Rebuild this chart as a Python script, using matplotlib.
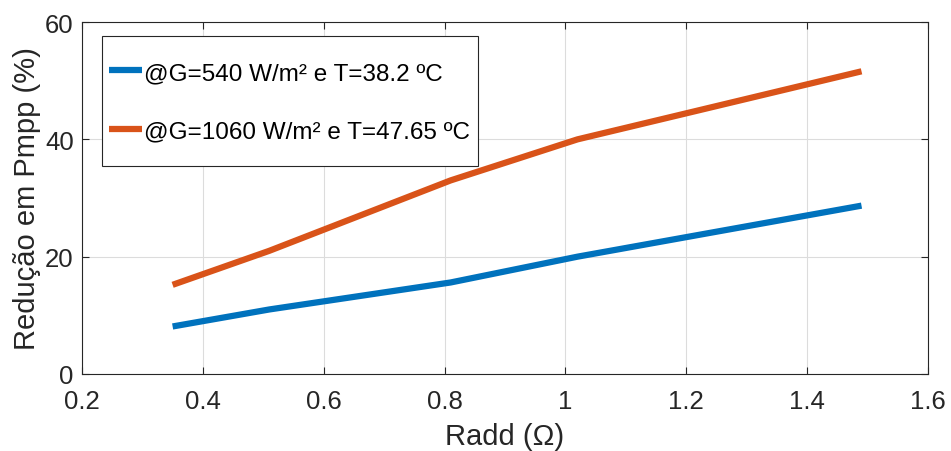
import matplotlib
matplotlib.use("Agg")
import numpy as np
import matplotlib.pyplot as plt
from matplotlib.legend_handler import HandlerLine2D
from matplotlib.lines import Line2D

plt.rcParams['font.family'] = ['Liberation Sans', 'DejaVu Sans']

radd = [0.35, 0.51, 0.81, 1.02, 1.49]
red_540 = [8.1, 11.0, 15.6, 20.0, 28.7]
red_1060 = [15.2, 21.0, 33.0, 40.0, 51.6]
labels = ['@G=540 W/m² e T=38.2 ºC', '@G=1060 W/m² e T=47.65 ºC']
xticks = [0.2, 0.4, 0.6, 0.8, 1.0, 1.2, 1.4, 1.6]
xticklabels = ['0.2', '0.4', '0.6', '0.8', '1', '1.2', '1.4', '1.6']
yticks = [0, 20, 40, 60]


class CenteredLineHandler(HandlerLine2D):
    def create_artists(self, legend, orig_handle, xdescent, ydescent,
                       width, height, fontsize, trans):
        arts = super().create_artists(legend, orig_handle, xdescent, ydescent,
                                      width, height, fontsize, trans)
        for a in arts:
            if isinstance(a, Line2D):
                y = a.get_ydata()
                a.set_ydata(np.full_like(np.asarray(y, dtype=float), 0.358 * fontsize))
        return arts


fig = plt.figure(figsize=(9.51, 4.52), dpi=100)
ax = fig.add_axes([0.0862, 0.1704, 0.8896, 0.7786])

l1, = ax.plot(radd, red_540, color='#0072BD', lw=4.5, label=labels[0], solid_capstyle='butt')
l2, = ax.plot(radd, red_1060, color='#D95319', lw=4.5, label=labels[1], solid_capstyle='butt')

ax.set_xlim(0.2, 1.6)
ax.set_ylim(0, 60)
ax.set_xticks(xticks)
ax.set_xticklabels(xticklabels)
ax.set_yticks(yticks)
ax.grid(True, color='#dcdcdc', lw=0.8)
ax.set_axisbelow(True)
for s in ax.spines.values():
    s.set_color('#262626')
    s.set_linewidth(0.8)
ax.tick_params(direction='in', top=True, right=True, labelsize=18.5, colors='#262626',
               length=5, width=0.8)
ax.tick_params(axis='x', pad=11)
ax.tick_params(axis='y', pad=6)
ax.set_xlabel('Radd (Ω)', fontsize=21, color='#262626', labelpad=6)
ax.set_ylabel('Redução em Pmpp (%)', fontsize=21, color='#262626', labelpad=3)

hm = {l1: CenteredLineHandler(), l2: CenteredLineHandler()}
leg = ax.legend(loc='upper left', bbox_to_anchor=(0.0236, 0.960), fontsize=17.5,
                frameon=True, fancybox=False, framealpha=1, edgecolor='#262626',
                handlelength=1.32, handleheight=3.23, handletextpad=0.12,
                labelspacing=0.05, borderpad=0.31, borderaxespad=0,
                handler_map=hm)
leg.get_frame().set_linewidth(0.8)

fig.savefig('out.png', dpi=100)
